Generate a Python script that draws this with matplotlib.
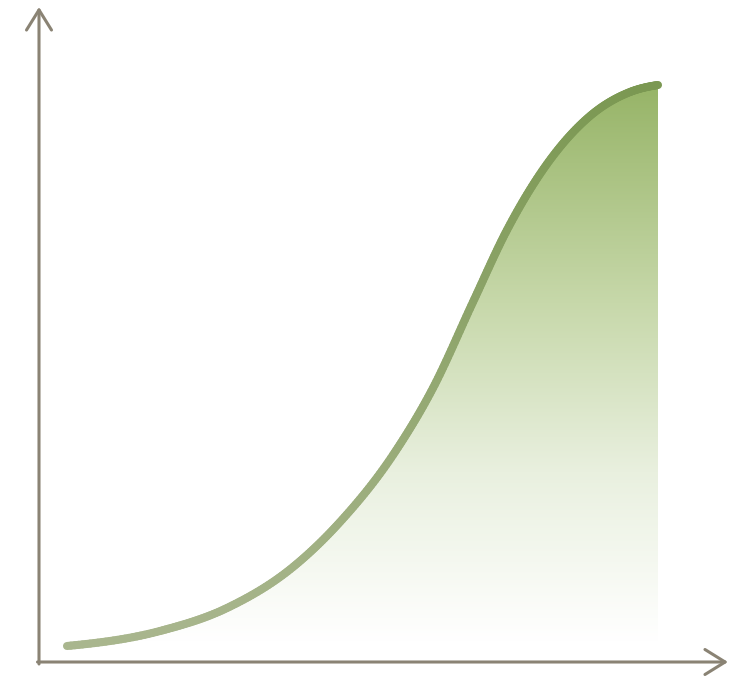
import numpy as np
import matplotlib
matplotlib.use('Agg')
import matplotlib.pyplot as plt
from matplotlib.collections import LineCollection
from matplotlib.colors import LinearSegmentedColormap, to_rgb

# growth curve, read as distance from the origin
x_vals = [28, 121, 188, 254, 301, 354, 394, 434, 468, 508, 551, 591, 619]
y_vals = [16, 31, 54, 95, 140, 207, 274, 360, 432, 498, 546, 570, 577]

x = np.array(x_vals, dtype=float)
y = np.array(y_vals, dtype=float)


def smooth(xp, yp, n=24):
    # cubic Hermite pieces between the points, slopes from the neighbouring chords
    h = np.diff(xp)
    d = np.diff(yp) / h
    m = np.empty_like(yp)
    m[1:-1] = (d[:-1] * h[1:] + d[1:] * h[:-1]) / (h[:-1] + h[1:])
    m[0], m[-1] = d[0] * 0.6, d[-1] * 0.6
    xs, ys = [], []
    for i in range(len(xp) - 1):
        t = np.linspace(0, 1, n, endpoint=False)
        h00 = 2 * t**3 - 3 * t**2 + 1
        h10 = t**3 - 2 * t**2 + t
        h01 = -2 * t**3 + 3 * t**2
        h11 = t**3 - t**2
        xs.append(xp[i] + t * h[i])
        ys.append(h00 * yp[i] + h10 * h[i] * m[i] + h01 * yp[i + 1] + h11 * h[i] * m[i + 1])
    xs.append([xp[-1]])
    ys.append([yp[-1]])
    return np.concatenate(xs), np.concatenate(ys)


sx, sy = smooth(x, y)

fig = plt.figure(figsize=(7.31, 6.81), dpi=100)
fig.patch.set_facecolor('white')
ax = fig.add_axes([0, 0, 1, 1])

# area under the curve, faded from green at the top to white at the axis
fill = ax.fill_between(sx, sy, 0, color='none', lw=0)
fade = LinearSegmentedColormap.from_list(
    'fade', [(0, '#ffffff'), (0.3, '#e9f0df'), (0.6, '#c7d8aa'), (1, '#95b365')])
grad = np.linspace(0, 1, 256).reshape(-1, 1)
img = ax.imshow(grad, cmap=fade, origin='lower', aspect='auto',
                extent=[sx.min(), sx.max(), 20, sy.max() + 8], zorder=1)
img.set_clip_path(fill.get_paths()[0], transform=ax.transData)
ax.set_xlim(-39, 692)
ax.set_ylim(-19, 662)
ax.axis('off')

# curve stroke, greyer at the bottom and deeper green at the top
pts = np.column_stack([sx, sy]).reshape(-1, 1, 2)
segs = np.concatenate([pts[:-1], pts[1:]], axis=1)
lo, hi = np.array(to_rgb('#a9b68e')), np.array(to_rgb('#7b9852'))
t = ((sy[:-1] + sy[1:]) / 2 - sy.min()) / (sy.max() - sy.min())
cols = [lo + (hi - lo) * ti for ti in t]
lc = LineCollection(segs, colors=cols, linewidths=5.8, capstyle='round',
                    joinstyle='round', zorder=3)
ax.add_collection(lc)

# axes with open arrow heads
axis_col = '#8a8374'
arrow = dict(arrowstyle='->,head_length=1.45,head_width=0.9', color=axis_col,
             lw=2.2, mutation_scale=10, shrinkA=0, shrinkB=0)
ax.annotate('', xy=(0, 655), xytext=(0, -2), arrowprops=arrow, zorder=4)
ax.annotate('', xy=(689, 0), xytext=(-1.5, 0), arrowprops=arrow, zorder=4)

fig.savefig('out.png', dpi=100, facecolor='white')
